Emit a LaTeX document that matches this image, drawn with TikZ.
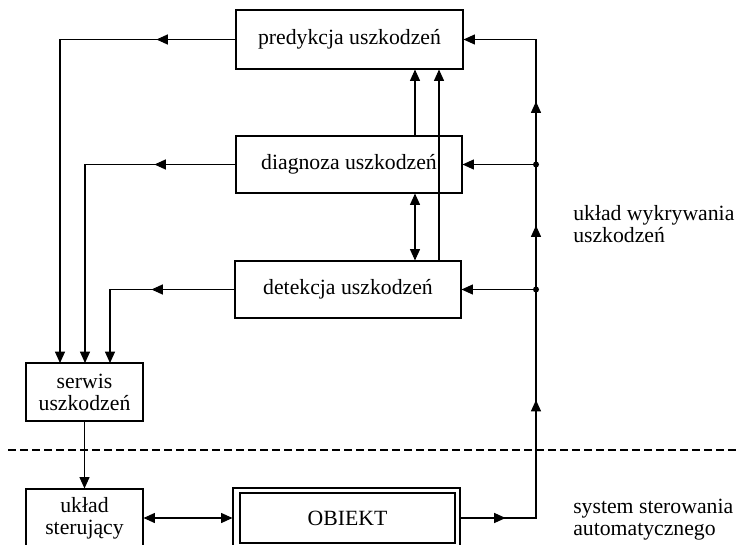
\documentclass[tikz,border=0pt]{standalone}
\usepackage{fontspec}
\setmainfont{Liberation Serif}
\usetikzlibrary{arrows.meta}
\begin{document}
\begin{tikzpicture}[x=0.75pt,y=-0.75pt,
  every node/.style={font=\fontsize{16.3}{16.5}\selectfont},
  box/.style={draw,line width=0.8pt,rectangle,inner sep=0pt,align=center},
  conn/.style={line width=0.8pt},
  arr/.style={conn,-{Triangle[length=8.5pt,width=7.5pt]}},
  darr/.style={conn,{Triangle[length=8.5pt,width=7.5pt]}-{Triangle[length=8.5pt,width=7.5pt]}},
  dotc/.style={circle,fill,inner sep=0pt,minimum size=4.5pt},
  lbl/.style={anchor=north west,inner sep=0pt,align=left}]
\clip (0,0) rectangle (739,545);
\useasboundingbox (0,0) rectangle (739,545);
% boxes
\node[box,minimum width=227*0.75pt,minimum height=59*0.75pt] (pred) at (349.5,39.5) {predykcja uszkodzeń};
\node[box,minimum width=226*0.75pt,minimum height=57*0.75pt] (diag) at (349,164.5) {diagnoza uszkodzeń};
\node[box,minimum width=226*0.75pt,minimum height=57*0.75pt] (det) at (348,289.5) {detekcja uszkodzeń};
\node[box,minimum width=117*0.75pt,minimum height=58*0.75pt] (serw) at (84.5,392) {serwis\\uszkodzeń};
\node[box,minimum width=117*0.75pt,minimum height=58*0.75pt] (ster) at (84.5,518) {układ\\sterujący};
\node[box,minimum width=227*0.75pt,minimum height=60*0.75pt] (obj) at (346.5,518) {};
\node[box,minimum width=215*0.75pt,minimum height=50*0.75pt] (objin) at (347.5,518) {OBIEKT};
% labels
\node[lbl] (l1) at (573,205) {układ wykrywania\\uszkodzeń};
\node[lbl] (l2) at (573,499) {system sterowania\\automatycznego};
% dashed separator
\coordinate (dl) at (8,450);
\coordinate (dr) at (739,450);
\draw[conn,dash pattern=on 6pt off 3pt] (dl) -- (dr);
% helper coordinates
\coordinate (bx) at (536,0);
\coordinate (a1) at (415,0);
\coordinate (a2) at (439,0);
\coordinate (s1) at (60,363);
\coordinate (s2) at (85,363);
\coordinate (s3) at (110,363);
% right bus
\draw[arr] (obj.east) -- (obj.east -| bx) -- (pred.east -| bx) -- (pred.east);
\draw[arr] (obj.east) -- ++(45,0);
\draw[arr] (obj.east -| bx) -- ++(0,-118);
\draw[arr] (det.east -| bx) -- ++(0,-64);
\draw[arr] (diag.east -| bx) -- ++(0,-63);
\node[dotc] (d1) at (diag.east -| bx) {};
\node[dotc] (d2) at (det.east -| bx) {};
\draw[arr] (d1) -- (diag.east);
\draw[arr] (d2) -- (det.east);
% vertical links
\draw[arr] (diag.north -| a1) -- (pred.south -| a1);
\draw[arr] (det.north -| a2) -- (pred.south -| a2);
\draw[darr] (diag.south -| a1) -- (det.north -| a1);
% left outputs
\draw[arr] (pred.west) -| (s1);
\draw[arr] (pred.west) -- ++(-79,0);
\draw[arr] (diag.west) -| (s2);
\draw[arr] (diag.west) -- ++(-81,0);
\draw[arr] (det.west) -| (s3);
\draw[arr] (det.west) -- ++(-83,0);
% bottom
\draw[arr] (serw.south) -- (ster.north);
\draw[darr] (ster.east) -- (obj.west);
\end{tikzpicture}
\end{document}
